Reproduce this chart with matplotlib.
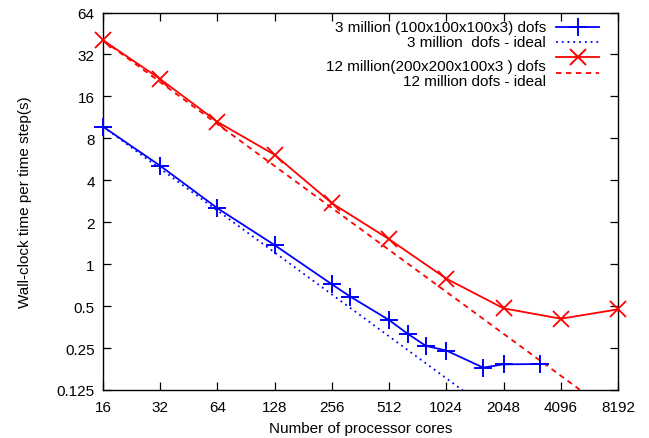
import matplotlib
matplotlib.use("Agg")
import matplotlib.pyplot as plt
from matplotlib.ticker import FixedLocator, FixedFormatter, NullLocator

plt.rcParams['font.family'] = ['Liberation Sans', 'DejaVu Sans']

# data
cores_3m = [16, 32, 64, 128, 256, 320, 512, 640, 800, 1024, 1600, 2048, 3200]
time_3m = [9.7, 5.08, 2.52, 1.37, 0.717, 0.585, 0.397, 0.317, 0.259, 0.240, 0.181, 0.191, 0.192]
cores_ideal = [16, 32, 64, 128, 256, 512, 1024, 2048, 4096, 8192]
ideal_3m = [9.7, 4.85, 2.425, 1.2125, 0.60625, 0.303125, 0.1515625, 0.07578, 0.03789, 0.018945]
cores_12m = [16, 32, 64, 128, 256, 512, 1024, 2048, 4096, 8192]
time_12m = [40.5, 21.3, 10.5, 6.09, 2.74, 1.51, 0.787, 0.482, 0.406, 0.474]
ideal_12m = [40.5, 20.25, 10.125, 5.0625, 2.53125, 1.265625, 0.6328125, 0.31640625, 0.158203, 0.0791016]

xticks = [16, 32, 64, 128, 256, 512, 1024, 2048, 4096, 8192]
xticklabels = ['16', '32', '64', '128', '256', '512', '1024', '2048', '4096', '8192']
yticks = [0.125, 0.25, 0.5, 1, 2, 4, 8, 16, 32, 64]
yticklabels = ['0.125', '0.25', '0.5', '1', '2', '4', '8', '16', '32', '64']

legend_labels = ['3 million (100x100x100x3) dofs', '3 million  dofs - ideal',
                 '12 million(200x200x100x3 ) dofs', '12 million dofs - ideal']

FS = 11
W, H = 649, 439
fig = plt.figure(figsize=(W / 100, H / 100), dpi=100)
ax = fig.add_axes([103 / W, 1 - 391 / H, (618 - 103) / W, (391 - 13.5) / H])

ax.set_xscale('log', base=2)
ax.set_yscale('log', base=2)
ax.set_xlim(16, 8192)
ax.set_ylim(0.125, 64)

blue = '#0000ff'
red = '#ff0000'
ax.plot(cores_3m, time_3m, color=blue, lw=1.3, marker='+', ms=13, mew=1.4, clip_on=False, zorder=3)
ax.plot(cores_ideal, ideal_3m, color=blue, lw=1.3, ls=(0, (1, 2.2)))
ax.plot(cores_12m, time_12m, color=red, lw=1.3, marker='x', ms=12, mew=1.3, clip_on=False, zorder=3)
ax.plot(cores_ideal, ideal_12m, color=red, lw=1.3, ls=(0, (3, 2.5)))

ax.xaxis.set_major_locator(FixedLocator(xticks))
ax.xaxis.set_major_formatter(FixedFormatter(xticklabels))
ax.xaxis.set_minor_locator(NullLocator())
ax.yaxis.set_major_locator(FixedLocator(yticks))
ax.yaxis.set_major_formatter(FixedFormatter(yticklabels))
ax.yaxis.set_minor_locator(NullLocator())
ax.tick_params(direction='in', length=6, width=0.9, top=True, right=True, labelsize=FS)
ax.tick_params(axis='x', pad=7)
ax.tick_params(axis='y', pad=6)
for s in ax.spines.values():
    s.set_linewidth(1.0)

ax.set_xlabel('Number of processor cores', fontsize=FS, labelpad=5)
ax.set_ylabel('Wall-clock time per time step(s)', fontsize=FS, labelpad=18)

# gnuplot-style legend (pixel coords converted to axes coords)
def ax_xy(px, py):
    return ((px - 103) / (618 - 103), (391 - py) / (391 - 13.5))

text_y = [28, 43, 67, 82]
sample_y = [28, 43, 58, 74]
styles = [dict(color=blue, lw=1.3, ls='-'), dict(color=blue, lw=1.3, ls=(0, (1, 2.2))),
          dict(color=red, lw=1.3, ls='-'), dict(color=red, lw=1.3, ls=(0, (3, 2.5)))]
markers = ['+', None, 'x', None]
msizes = [13, 0, 12, 0]
for i, lab in enumerate(legend_labels):
    tx, ty = ax_xy(546, text_y[i])
    ax.text(tx, ty, lab, transform=ax.transAxes, ha='right', va='center', fontsize=FS)
    x0, y0 = ax_xy(556, sample_y[i])
    x1, _ = ax_xy(599, sample_y[i])
    ax.plot([x0, x1], [y0, y0], transform=ax.transAxes, **styles[i])
    if markers[i]:
        ax.plot([(x0 + x1) / 2], [y0], transform=ax.transAxes, color=styles[i]['color'],
                marker=markers[i], ms=msizes[i], mew=1.4, ls='none')

fig.savefig('out.png', dpi=100)
